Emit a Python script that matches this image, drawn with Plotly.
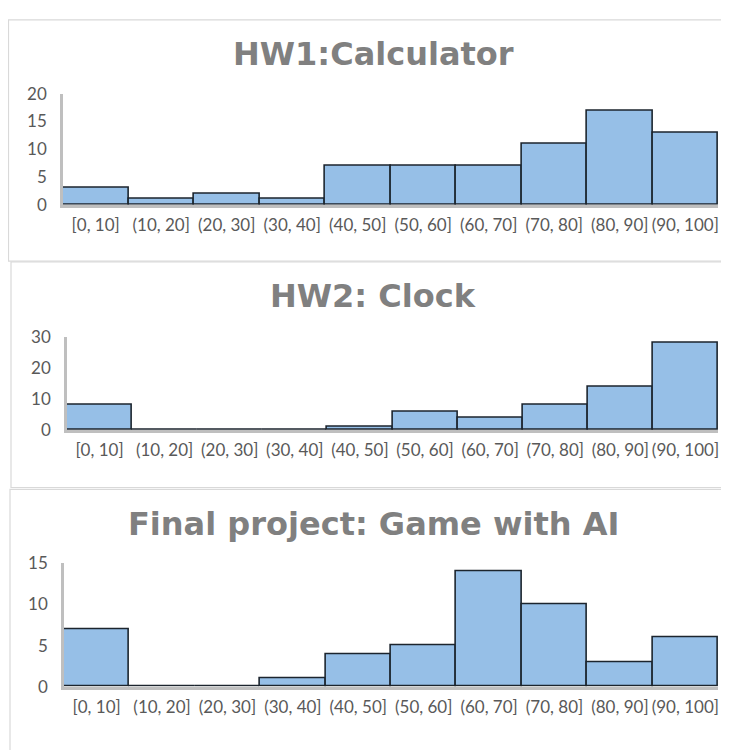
import plotly.graph_objects as go

# Score bins shared by all three histograms
bins = ["[0, 10]", "(10, 20]", "(20, 30]", "(30, 40]", "(40, 50]",
        "(50, 60]", "(60, 70]", "(70, 80]", "(80, 90]", "(90, 100]"]

hw1_counts = [3, 1, 2, 1, 7, 7, 7, 11, 17, 13]
hw2_counts = [8, 0, 0, 0, 1, 6, 4, 8, 14, 28]
final_counts = [7, 0, 0, 1, 4, 5, 14, 10, 3, 6]

titles = ["HW1:Calculator", "HW2: Clock", "Final project: Game with AI"]
y_ranges = [20, 30, 15]
y_dticks = [5, 10, 5]

W, H = 729, 750
OFF = 8  # the page body adds an 8px margin around the figure

# panel geometry in page pixels: plot x0/x1, y of zero, y of max, title y, frame box
panels = [
    dict(x0=63, x1=719, y0=199, y1=85, ty=44, box=(8.5, 9, 760, 257)),
    dict(x0=67, x1=719, y0=431, y1=335, ty=293, box=(11, 258, 760, 490)),
    dict(x0=64, x1=719, y0=695, y1=568, ty=528, box=(10, 492, 760, 780)),
]


def px_x(v):
    return (v - OFF) / W


def px_y(v):
    return 1 - (v - OFF) / H


fig = go.Figure()

axis_font = dict(family="Lato, Open Sans, sans-serif", size=17, color="#595959")

series = [hw1_counts, hw2_counts, final_counts]
for i, (counts, p) in enumerate(zip(series, panels)):
    n = "" if i == 0 else str(i + 1)
    fig.add_trace(go.Bar(
        x=bins,
        y=counts,
        xaxis="x" + n,
        yaxis="y" + n,
        marker=dict(color="#96bfe7", line=dict(color="#1c252e", width=1.6)),
        showlegend=False,
    ))

    fig.layout["xaxis" + n] = dict(
        domain=[px_x(p["x0"]), px_x(p["x1"])],
        anchor="y" + n,
        range=[-0.5, 9.5],
        showline=True,
        linecolor="#bfbfbf",
        linewidth=2.5,
        showgrid=False,
        ticks="",
        tickfont=axis_font,
        ticklabelstandoff=3,
        fixedrange=True,
    )
    fig.layout["yaxis" + n] = dict(
        domain=[px_y(p["y0"]), px_y(p["y1"])],
        anchor="x" + n,
        range=[0, y_ranges[i]],
        dtick=y_dticks[i],
        showline=True,
        linecolor="#bfbfbf",
        linewidth=2.5,
        showgrid=False,
        zeroline=False,
        ticks="",
        tickfont=axis_font,
        ticklabelstandoff=10,
        fixedrange=True,
    )

    # panel frame
    bx0, by0, bx1, by1 = p["box"]
    fig.add_shape(
        type="rect", xref="paper", yref="paper",
        x0=px_x(bx0), x1=px_x(bx1), y0=px_y(by0), y1=px_y(by1),
        line=dict(color="#d9d9d9", width=1.2), layer="below",
    )

    # panel title
    fig.add_annotation(
        text="<b>" + titles[i] + "</b>",
        xref="paper", yref="paper",
        x=px_x(374), y=px_y(p["ty"]),
        xanchor="center", yanchor="middle",
        showarrow=False,
        font=dict(family="DejaVu Sans, sans-serif", size=32, color="#808080"),
    )

fig.update_layout(
    width=W,
    height=H,
    margin=dict(l=0, r=0, t=0, b=0),
    paper_bgcolor="white",
    plot_bgcolor="white",
    bargap=0,
)

fig.write_html("out.html")
